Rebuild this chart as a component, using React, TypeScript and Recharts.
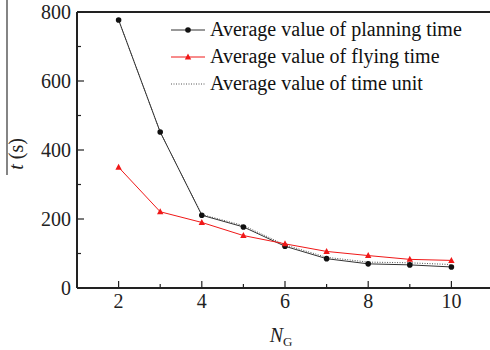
import React from "react";
import {
  LineChart,
  Line,
  XAxis,
  YAxis,
  ReferenceLine,
} from "recharts";

const serif = "'Liberation Serif', 'Times New Roman', serif";
const axisColor = "#222";
const blackLine = "#333";
const redLine = "#f01818";

// N_G values on the x axis
const groups = [2, 3, 4, 5, 6, 7, 8, 9, 10];
// average values, seconds
const planningTime = [777, 452, 211, 177, 121, 85, 70, 67, 61];
const flyingTime = [350, 221, 190, 152, 128, 106, 94, 83, 80];
const timeUnit = [777, 452, 213, 181, 125, 89, 75, 73, 68];

const xTicks = [2, 3, 4, 5, 6, 7, 8, 9, 10];
const yTicks = [0, 50, 100, 150, 200, 250, 300, 350, 400, 450, 500, 550, 600, 650, 700, 750, 800];

const seriesNames = [
  "Average value of planning time",
  "Average value of flying time",
  "Average value of time unit",
];

const data = groups.map((g, i) => ({
  g,
  planning: planningTime[i],
  flying: flyingTime[i],
  unit: timeUnit[i],
}));

/* ---------- ticks (inward, with minor ticks) ---------- */
function YTick(props: any) {
  const { x, y, payload } = props;
  const major = payload.value % 200 === 0;
  return (
    <g>
      <line x1={x} x2={x + (major ? 7 : 4)} y1={y} y2={y} stroke={axisColor} strokeWidth={1.2} />
      {major && (
        <text x={x - 6} y={y} dy="0.35em" textAnchor="end" fontFamily={serif} fontSize={20} fill="#222">
          {payload.value}
        </text>
      )}
    </g>
  );
}

function XTick(props: any) {
  const { x, y, payload } = props;
  const major = payload.value % 2 === 0;
  return (
    <g>
      <line x1={x} x2={x} y1={y} y2={y - (major ? 7 : 4)} stroke={axisColor} strokeWidth={1.2} />
      {major && (
        <text x={x} y={y + 20} textAnchor="middle" fontFamily={serif} fontSize={20} fill="#222">
          {payload.value}
        </text>
      )}
    </g>
  );
}

/* ---------- markers ---------- */
function Triangle(props: any) {
  const { cx, cy } = props;
  if (cx == null || cy == null) return null;
  return <path d={`M${cx},${cy - 3.5} L${cx + 3.2},${cy + 2.5} L${cx - 3.2},${cy + 2.5} Z`} fill={redLine} />;
}

function Circle(props: any) {
  const { cx, cy } = props;
  if (cx == null || cy == null) return null;
  return <circle cx={cx} cy={cy} r={2.8} fill="#111" />;
}

/* ---------- axis labels ---------- */
function YLabel(props: any) {
  const { viewBox } = props;
  const cx = viewBox.x + 16;
  const cy = viewBox.y + 142;
  return (
    <g>
      <line x1={7} x2={7} y1={0} y2={viewBox.y + 163} stroke="#333" strokeWidth={1.2} />
      <text
        x={cx}
        y={cy}
        transform={`rotate(-90 ${cx} ${cy})`}
        textAnchor="middle"
        dominantBaseline="central"
        fontFamily={serif}
        fontSize={20}
        fill="#222"
      >
        <tspan fontStyle="italic">t</tspan>
        <tspan> (s)</tspan>
      </text>
    </g>
  );
}

function XLabel(props: any) {
  const { viewBox } = props;
  const cx = viewBox.x + viewBox.width / 2 - 4;
  return (
    <text x={cx} y={viewBox.y + 54} textAnchor="middle" fontFamily={serif} fontSize={20} fill="#222">
      <tspan fontStyle="italic">N</tspan>
      <tspan fontSize={13} dy={4}>G</tspan>
    </text>
  );
}

/* ---------- legend ---------- */
function LegendBox() {
  const row = (i: number) => (
    <div key={i} style={{ display: "flex", alignItems: "center", height: 27 }}>
      <svg width={36} height={10} style={{ marginRight: 3 }}>
        {i === 0 && (
          <>
            <line x1={0} x2={34} y1={5} y2={5} stroke={blackLine} strokeWidth={1} />
            <circle cx={17} cy={5} r={2.8} fill="#111" />
          </>
        )}
        {i === 1 && (
          <>
            <line x1={0} x2={34} y1={5} y2={5} stroke={redLine} strokeWidth={1} />
            <path d="M17,1.5 L20.2,7.5 L13.8,7.5 Z" fill={redLine} />
          </>
        )}
        {i === 2 && <line x1={0} x2={34} y1={5} y2={5} stroke="#555" strokeWidth={1} strokeDasharray="1 1.5" />}
      </svg>
      <span style={{ fontFamily: serif, fontSize: 20, color: "#111", whiteSpace: "nowrap" }}>{seriesNames[i]}</span>
    </div>
  );
  return (
    <div style={{ position: "absolute", left: 171, top: 16 }}>
      {[0, 1, 2].map(row)}
    </div>
  );
}

export default function App() {
  return (
    <div style={{ position: "absolute", left: 0, top: 0, width: 490, height: 350, overflow: "hidden", background: "#fff" }}>
      <LineChart width={500} height={350} data={data} margin={{ top: 12, right: 7, bottom: 0, left: 0 }}>
        <XAxis
          dataKey="g"
          type="number"
          domain={[1, 11]}
          ticks={xTicks}
          height={62}
          tickSize={0}
          tickMargin={0}
          tickLine={false}
          tick={<XTick />}
          axisLine={{ stroke: axisColor, strokeWidth: 2 }}
          label={<XLabel />}
        />
        <YAxis
          type="number"
          domain={[0, 800]}
          ticks={yTicks}
          width={77}
          tickSize={0}
          tickMargin={0}
          tickLine={false}
          tick={<YTick />}
          axisLine={{ stroke: axisColor, strokeWidth: 2 }}
          label={<YLabel />}
        />
        <ReferenceLine y={800} stroke={axisColor} strokeWidth={2} />
        <Line
          dataKey="unit"
          stroke="#555"
          strokeWidth={1}
          strokeDasharray="1 1.5"
          dot={false}
          isAnimationActive={false}
        />
        <Line
          dataKey="planning"
          stroke={blackLine}
          strokeWidth={1}
          dot={<Circle />}
          isAnimationActive={false}
        />
        <Line
          dataKey="flying"
          stroke={redLine}
          strokeWidth={1}
          dot={<Triangle />}
          isAnimationActive={false}
        />
      </LineChart>
      <LegendBox />
    </div>
  );
}
